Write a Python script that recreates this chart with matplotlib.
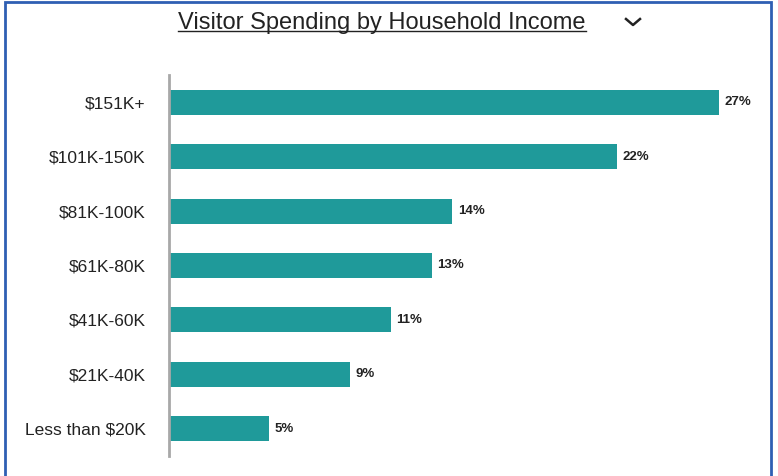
import matplotlib.pyplot as plt
from matplotlib.patches import Rectangle

plt.rcParams["font.family"] = ["Liberation Sans", "DejaVu Sans"]

categories = ["$151K+", "$101K-150K", "$81K-100K", "$61K-80K", "$41K-60K", "$21K-40K", "Less than $20K"]
shares = [27.0, 22.0, 13.9, 12.9, 10.9, 8.9, 4.9]
labels = ["27%", "22%", "14%", "13%", "11%", "9%", "5%"]

W, H = 778, 476
fig = plt.figure(figsize=(W / 100, H / 100), dpi=100)

# blue panel border
fig.patches.append(Rectangle((5 / W, -0.05), (771 - 5) / W, (H - 2) / H + 0.05,
                             transform=fig.transFigure, fill=False,
                             edgecolor="#2f5fb3", linewidth=2))

ax = fig.add_axes([169 / W, 1 - 456 / H, (760 - 169) / W, (456 - 75) / H])
y = list(range(len(categories)))
bars = ax.barh(y, shares, height=0.46, color="#1f9a9a")
for bar, lab in zip(bars, labels):
    ax.annotate(lab, (bar.get_width(), bar.get_y() + bar.get_height() / 2),
                xytext=(4, 0), textcoords="offset points",
                va="center", ha="left", fontsize=9.5, fontweight="bold", color="#222222")

ax.set_ylim(6.5, -0.5)
ax.set_xlim(0, 27.0 * 591 / 550)
ax.set_yticks(y)
ax.set_yticklabels(categories, fontsize=12.5, color="#222222")
ax.tick_params(axis="y", length=0, pad=17)
ax.set_xticks([])
for side in ["top", "right", "bottom"]:
    ax.spines[side].set_visible(False)
ax.spines["left"].set_color("#a8a8a8")
ax.spines["left"].set_linewidth(2)

title = fig.text(382 / W, 1 - 29 / H, "Visitor Spending by Household Income",
                 ha="center", va="baseline", fontsize=17, color="#222222")
fig.canvas.draw()
bb = title.get_window_extent()
fig.add_artist(plt.Line2D([bb.x0 / W, bb.x1 / W], [1 - 31 / H, 1 - 31 / H],
                          transform=fig.transFigure, color="#222222", linewidth=1))
# dropdown chevron icon
fig.add_artist(plt.Line2D([626 / W, 633 / W, 640 / W], [1 - 19 / H, 1 - 25 / H, 1 - 19 / H],
                          transform=fig.transFigure, color="#222222", linewidth=1.8))

fig.savefig("out.png", dpi=100)
